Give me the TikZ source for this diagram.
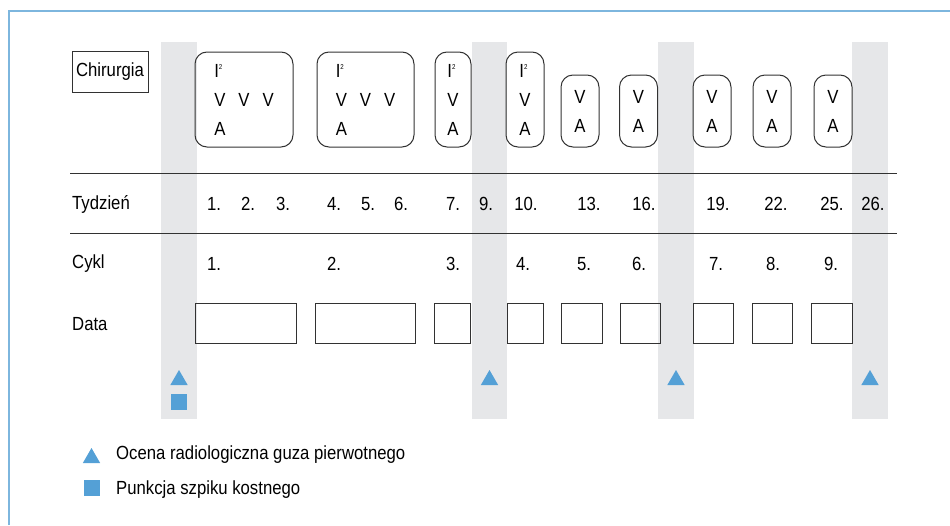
\documentclass[tikz,border=0pt]{standalone}
\usepackage{fontspec}
\setmainfont{Liberation Sans}[FakeStretch=0.88]
\usepackage{tikz}
\usetikzlibrary{shapes.geometric}

\definecolor{framecol}{RGB}{125,182,222}
\definecolor{markcol}{RGB}{84,160,214}
\definecolor{barcol}{RGB}{230,231,233}
\definecolor{linecol}{RGB}{50,50,50}

\newcommand{\Isq}{I\raisebox{8pt}{\fontsize{7}{7}\selectfont 2}}

\begin{document}
\begin{tikzpicture}[
  x=1pt, y=-1pt,
  font=\fontsize{19}{29}\selectfont,
  every node/.style={inner sep=0pt},
  plan/.style={draw=linecol, line width=1pt, rounded corners=12pt, align=left},
  bigplan/.style={plan, minimum height=95pt},
  smallplan/.style={plan, minimum height=72pt, minimum width=38pt},
  datebox/.style={draw=linecol, line width=1pt, minimum height=40pt},
  rowlabel/.style={anchor=west},
  tri/.style={regular polygon, regular polygon sides=3, fill=markcol, minimum size=20pt},
  sq/.style={rectangle, fill=markcol, minimum size=16pt},
  bar/.style={fill=barcol}
]
\useasboundingbox (0,0) rectangle (950,525);

% frame
\draw[framecol, line width=1.5pt] (9,525) -- (9,11) -- (950,11);

% grey columns
\fill[bar] (161,42) rectangle (197,419);
\fill[bar] (472,42) rectangle (507,419);
\fill[bar] (658,42) rectangle (694,419);
\fill[bar] (852,42) rectangle (888,419);

% surgery row
\node[draw=linecol, line width=1pt, minimum width=76pt, minimum height=41pt] (chir) at (110,71.5) {Chirurgia};
\node[bigplan, minimum width=98pt] (pl1) at (244,99.5) {\Isq\\V\hspace{13pt}V\hspace{13pt}V\\A};
\node[bigplan, minimum width=97pt] (pl2) at (365.5,99.5) {\Isq\\V\hspace{13pt}V\hspace{13pt}V\\A};
\node[bigplan, minimum width=36pt] (pl3) at (453,99.5) {\Isq\\V\\A};
\node[bigplan, minimum width=38pt] (pl4) at (525,99.5) {\Isq\\V\\A};
\node[smallplan] (pl5) at (580,111) {V\\A};
\node[smallplan] (pl6) at (638.5,111) {V\\A};
\node[smallplan] (pl7) at (712,111) {V\\A};
\node[smallplan] (pl8) at (772,111) {V\\A};
\node[smallplan] (pl9) at (833,111) {V\\A};

% rules
\draw[linecol, line width=1pt] (70,173) -- (897,173);
\draw[linecol, line width=1pt] (70,233) -- (897,233);

% weeks
\node[rowlabel] (week) at (72,204) {Tydzień};
\node (w1) at (214,204) {1.};
\node (w2) at (248,204) {2.};
\node (w3) at (283,204) {3.};
\node (w4) at (334,204) {4.};
\node (w5) at (368,204) {5.};
\node (w6) at (401,204) {6.};
\node (w7) at (453,204) {7.};
\node (w9) at (486,204) {9.};
\node (w10) at (526,204) {10.};
\node (w13) at (589,204) {13.};
\node (w16) at (644,204) {16.};
\node (w19) at (718,204) {19.};
\node (w22) at (776,204) {22.};
\node (w25) at (832,204) {25.};
\node (w26) at (873,204) {26.};

% cycles
\node[rowlabel] (cycle) at (72,264) {Cykl};
\node (c1) at (214,264) {1.};
\node (c2) at (334,264) {2.};
\node (c3) at (453,264) {3.};
\node (c4) at (523,264) {4.};
\node (c5) at (584,264) {5.};
\node (c6) at (639,264) {6.};
\node (c7) at (716,264) {7.};
\node (c8) at (773,264) {8.};
\node (c9) at (831,264) {9.};

% dates
\node[rowlabel] (date) at (72,324) {Data};
\node[datebox, minimum width=101pt] (d1) at (245.5,323) {};
\node[datebox, minimum width=100pt] (d2) at (365,323) {};
\node[datebox, minimum width=36pt] (d3) at (452,323) {};
\node[datebox, minimum width=36pt] (d4) at (525,323) {};
\node[datebox, minimum width=41pt] (d5) at (581.5,323) {};
\node[datebox, minimum width=40pt] (d6) at (640,323) {};
\node[datebox, minimum width=40pt] (d7) at (713,323) {};
\node[datebox, minimum width=40pt] (d8) at (772,323) {};
\node[datebox, minimum width=41pt] (d9) at (831.5,323) {};

% markers
\node[tri] (t1) at (179,380) {};
\node[sq] (s1) at (179,402) {};
\node[tri] (t2) at (489.5,380) {};
\node[tri] (t3) at (676,380) {};
\node[tri] (t4) at (870,380) {};

% legend
\node[tri] (lt) at (91.5,458) {};
\node[sq] (ls) at (91.5,487.5) {};
\node[anchor=west] (ltext) at (116,455) {Ocena radiologiczna guza pierwotnego};
\node[anchor=west] (lstext) at (116,490) {Punkcja szpiku kostnego};
\end{tikzpicture}
\end{document}
